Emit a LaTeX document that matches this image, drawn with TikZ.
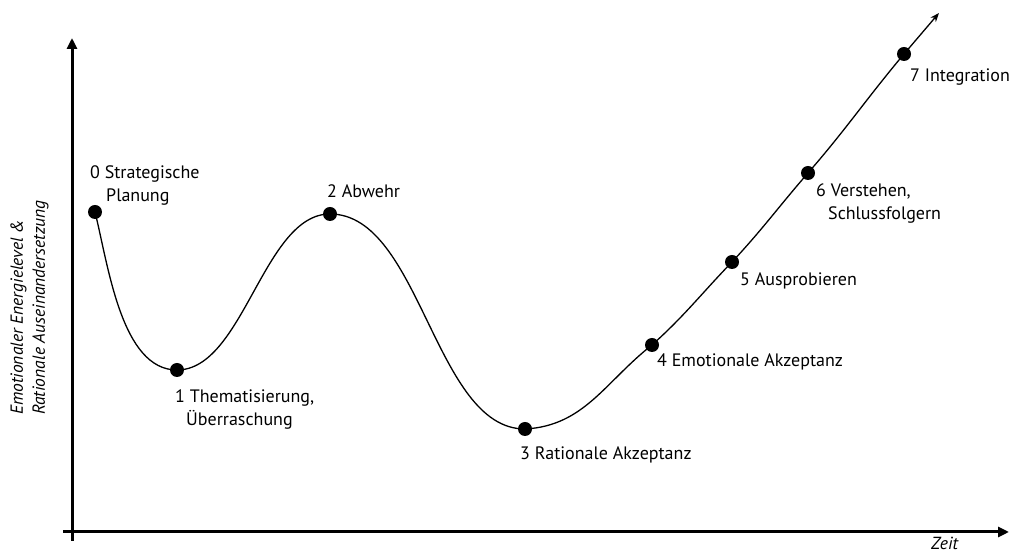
\documentclass[tikz,border=0pt]{standalone}
\usepackage{fontspec}
\setmainfont{PT Sans}
\usetikzlibrary{arrows.meta}
\begin{document}
\begin{tikzpicture}[x=1pt,y=1pt,
  axis/.style={line width=3pt,-{Triangle[length=11pt,width=10pt]}},
  curve/.style={line width=1.3pt},
  dot/.style={circle,fill=black,inner sep=0pt,minimum size=14pt},
  lbl/.style={inner sep=0pt,anchor=base west,align=left,font=\fontsize{18}{23}\selectfont},
  axlbl/.style={inner sep=0pt,anchor=base west,align=left,font=\fontsize{17.5}{22}\selectfont\itshape}]
\useasboundingbox (0,0) rectangle (1013,554);
% axes
\coordinate (yb) at (72,13);
\coordinate (yt) at (72,516);
\coordinate (xl) at (63,22);
\coordinate (xr) at (1009,22);
\draw[axis] (yb) -- (yt);
\draw[axis] (xl) -- (xr);
% points
\node[dot] (p0) at (95,342) {};
\node[dot] (p1) at (177,184) {};
\node[dot] (p2) at (330,340) {};
\node[dot] (p3) at (525,125) {};
\node[dot] (p4) at (652,209) {};
\node[dot] (p5) at (732,292) {};
\node[dot] (p6) at (808,381) {};
\node[dot] (p7) at (904,500) {};
\coordinate (pe) at (939,541);
% curve
\draw[curve] (p0.center) to[out=-76,in=180,looseness=0.8] (p1.center)
  to[out=0,in=180,looseness=0.78] (p2.center)
  to[out=0,in=180,looseness=0.8] (p3.center)
  to[out=3,in=218] (p4.center)
  to[out=42,in=226] (p5.center)
  to[out=47,in=229] (p6.center)
  to[out=49,in=230] (p7.center);
\draw[curve,-{Stealth[length=9pt,width=7pt]}] (p7.center) -- (pe);
% labels
\node[lbl] (l0) at (90,352) {0 Strategische\\\hspace*{16pt}Planung};
\node[lbl] (l1) at (175,128) {1 Thematisierung,\\\hspace*{11pt}Überraschung};
\node[lbl] (l2) at (327,356) {2 Abwehr};
\node[lbl] (l3) at (520,94) {3 Rationale Akzeptanz};
\node[lbl] (l4) at (657,187) {4 Emotionale Akzeptanz};
\node[lbl] (l5) at (740,268) {5 Ausprobieren};
\node[lbl] (l6) at (816,334) {6 Verstehen,\\\hspace*{12pt}Schlussfolgern};
\node[lbl] (l7) at (910,472) {7 Integration};
\node[axlbl,rotate=90] (ly) at (45,139) {Emotionaler Energielevel \&\\Rationale Auseinandersetzung};
\node[axlbl] (lx) at (931,4) {Zeit};
\end{tikzpicture}
\end{document}
